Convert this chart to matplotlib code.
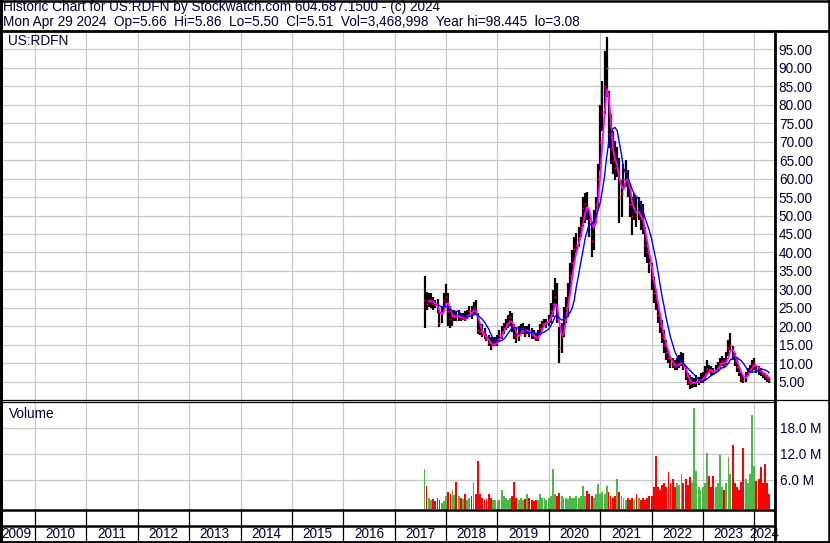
import pandas as pd
import matplotlib.pyplot as plt
import matplotlib.dates as mdates
from matplotlib.lines import Line2D

# semi-monthly bars, Aug 2017 .. Apr 2024
dates = pd.date_range("2017-08-01", periods=162, freq="SMS")

high = [
    33.6, 29.3, 28.9, 29.0, 28.0, 27.0, 27.5, 24.5, 25.5, 29.0,
    31.5, 29.0, 25.5, 24.5, 24.5, 24.0, 24.5, 23.5, 23.5, 24.0,
    24.5, 25.5, 25.5, 26.5, 27.0, 23.5, 21.0, 20.5, 19.5, 18.0,
    17.5, 17.0, 17.0, 17.0, 17.5, 19.0, 20.0, 21.0, 22.0, 23.0,
    24.0, 23.5, 20.5, 19.5, 20.0, 20.5, 21.0, 20.0, 20.0, 20.5,
    19.5, 19.0, 18.0, 19.0, 20.5, 21.5, 22.0, 22.0, 23.0, 26.2,
    29.8, 33.0, 31.6, 19.8, 20.8, 25.2, 28.0, 31.6, 37.0, 40.6,
    44.1, 45.2, 46.8, 49.5, 55.0, 56.0, 56.4, 51.4, 47.9, 51.4,
    55.0, 64.0, 80.0, 86.5, 94.6, 98.4, 83.8, 77.6, 73.0, 70.3,
    68.5, 65.7, 59.5, 64.0, 65.0, 62.2, 58.6, 55.0, 56.0, 55.0,
    55.0, 54.0, 53.2, 46.8, 43.2, 40.5, 37.0, 33.3, 29.8, 26.2,
    23.5, 21.7, 19.0, 16.3, 13.6, 11.7, 11.4, 10.9, 11.4, 12.2,
    13.1, 12.7, 9.1, 7.3, 6.8, 6.3, 6.0, 6.8, 6.3, 7.3,
    7.7, 9.1, 10.9, 9.5, 9.1, 8.6, 9.5, 10.4, 11.3, 11.8,
    11.3, 13.1, 16.3, 18.1, 14.5, 12.7, 11.3, 9.1, 7.7, 6.8,
    7.7, 8.6, 9.5, 10.9, 11.3, 9.5, 9.1, 8.6, 7.7, 7.3,
    6.8, 6.3,
]
low = [
    19.4, 24.4, 25.2, 25.0, 24.5, 25.0, 23.5, 19.8, 21.0, 24.0,
    26.0, 20.0, 19.5, 20.0, 21.5, 21.5, 21.5, 21.5, 21.7, 21.5,
    22.0, 23.0, 22.0, 23.0, 23.0, 18.0, 17.5, 17.0, 16.5, 16.0,
    14.5, 13.5, 14.5, 14.5, 14.5, 16.5, 16.5, 18.0, 19.0, 19.5,
    20.0, 18.5, 16.5, 15.5, 16.0, 18.0, 18.0, 17.0, 18.0, 17.0,
    16.5, 16.5, 16.0, 16.0, 18.0, 19.0, 20.0, 19.5, 20.0, 20.8,
    22.5, 25.2, 20.8, 10.0, 12.7, 17.0, 20.8, 22.5, 29.0, 33.3,
    37.0, 39.8, 41.4, 44.1, 46.8, 48.0, 48.7, 44.1, 38.7, 40.6,
    48.0, 52.0, 62.0, 73.0, 77.6, 82.0, 68.4, 64.0, 61.2, 59.5,
    60.3, 48.0, 49.5, 56.8, 57.6, 55.0, 49.5, 44.6, 48.7, 46.8,
    48.7, 46.0, 45.0, 38.7, 37.0, 34.3, 29.8, 26.2, 24.4, 20.8,
    18.1, 15.5, 12.7, 10.9, 10.0, 8.7, 8.7, 8.2, 8.2, 8.7,
    9.1, 8.2, 5.5, 4.1, 3.08, 3.3, 3.6, 3.6, 4.1, 4.6,
    4.6, 5.5, 6.8, 7.3, 6.8, 6.8, 7.3, 7.7, 8.6, 9.1,
    8.6, 9.5, 11.8, 13.6, 10.9, 9.1, 7.7, 6.4, 5.0, 4.6,
    5.0, 6.4, 7.3, 7.7, 8.2, 7.3, 6.8, 6.4, 5.9, 5.5,
    5.0, 4.6,
]
close = [
    27.0, 26.0, 27.0, 27.0, 26.0, 25.7, 25.0, 21.0, 23.5, 27.0,
    28.0, 24.0, 22.0, 22.5, 23.0, 22.5, 22.8, 22.0, 22.3, 22.0,
    23.0, 24.0, 23.5, 25.0, 24.0, 19.0, 18.5, 18.0, 17.0, 16.5,
    15.5, 14.5, 15.0, 15.5, 16.0, 17.5, 18.5, 19.5, 20.5, 21.0,
    22.5, 20.0, 17.5, 17.0, 17.5, 19.0, 19.5, 18.0, 19.0, 18.5,
    17.5, 17.0, 16.5, 17.0, 19.5, 20.5, 21.0, 21.0, 21.5, 24.0,
    26.0, 28.0, 22.0, 14.0, 17.0, 22.0, 25.0, 28.0, 34.0, 37.0,
    41.0, 42.0, 44.0, 47.0, 52.0, 53.0, 52.0, 49.0, 43.0, 48.0,
    53.0, 60.0, 70.0, 78.0, 85.0, 90.0, 72.0, 68.0, 65.0, 63.0,
    63.0, 55.0, 56.0, 60.0, 62.0, 58.0, 53.0, 50.0, 52.0, 50.0,
    51.0, 49.0, 47.0, 42.0, 40.0, 37.0, 33.0, 29.0, 27.0, 23.0,
    20.0, 17.0, 15.0, 13.0, 11.5, 10.0, 9.5, 9.0, 9.5, 10.0,
    10.5, 9.0, 6.5, 5.0, 4.5, 4.5, 4.8, 5.0, 5.2, 5.5,
    6.0, 7.0, 8.5, 8.0, 7.8, 7.5, 8.2, 9.0, 10.0, 10.5,
    9.5, 11.0, 14.0, 15.0, 12.0, 10.5, 9.0, 7.5, 6.0, 5.5,
    6.5, 7.5, 8.5, 9.5, 10.0, 8.5, 8.0, 7.5, 7.0, 6.5,
    6.0, 5.51,
]
# volume in millions
volume = [
    9.2, 5.3, 2.5, 2.0, 2.2, 1.8, 2.5, 2.0, 1.5, 1.8,
    3.0, 4.0, 3.5, 4.4, 3.2, 6.2, 3.0, 2.5, 2.2, 3.5,
    2.0, 2.5, 3.0, 6.3, 3.5, 11.1, 3.5, 2.5, 2.0, 2.2,
    3.5, 2.5, 2.0, 2.0, 1.8, 2.0, 4.4, 3.0, 2.5, 2.0,
    2.5, 3.0, 6.2, 2.5, 2.0, 2.5, 2.0, 2.2, 3.5, 2.5,
    2.0, 1.8, 2.0, 2.0, 3.5, 2.5, 2.5, 2.0, 2.5, 3.0,
    9.2, 3.5, 3.0, 3.7, 3.0, 2.5, 2.5, 2.2, 3.0, 2.5,
    2.5, 3.0, 2.5, 3.0, 5.3, 3.0, 4.2, 3.5, 3.0, 2.5,
    3.5, 5.8, 3.5, 4.0, 3.5, 5.4, 4.0, 3.0, 2.5, 3.0,
    6.9, 4.0, 3.0, 2.5, 2.0, 2.5, 2.0, 2.5, 2.0, 3.5,
    2.5, 2.0, 2.5, 2.0, 2.5, 3.0, 3.0, 5.0, 12.2, 5.0,
    4.5, 5.5, 6.0, 5.0, 8.5, 6.0, 7.0, 5.0, 6.0, 5.5,
    8.0, 6.0, 6.9, 5.5, 7.5, 6.0, 23.3, 8.8, 5.0, 4.5,
    5.0, 6.0, 12.9, 7.6, 5.0, 7.6, 5.0, 6.0, 12.4, 5.0,
    4.5, 6.0, 12.0, 8.0, 14.8, 6.0, 5.0, 4.5, 6.3, 14.1,
    7.0, 6.0, 8.0, 21.7, 9.9, 6.5, 7.0, 9.7, 6.0, 10.3,
    6.0, 3.4,
]

years = list(range(2009, 2025))
price_ticks = list(range(5, 100, 5))
vol_ticks = [6, 12, 18]

W, H = 830, 543
TXT = "#000033"
GRID = "#c8c8c8"
FONT = "Liberation Sans"
FS = 9.8


def fx(px):
    return px / W


def fy(py):
    return 1 - py / H


plt.rcParams["font.family"] = FONT
fig = plt.figure(figsize=(W / 100, H / 100), dpi=100)

xl = (mdates.date2num(pd.Timestamp("2009-05-11")), mdates.date2num(pd.Timestamp("2024-05-20")))
x = mdates.date2num(dates)
year_x = [mdates.date2num(pd.Timestamp(f"{y}-01-01")) for y in years[1:]]

# price panel
ax = fig.add_axes([fx(2), fy(400), (774 - 2) / W, (400 - 31) / H])
ax.set_xlim(xl)
ax.set_ylim(0, 100)
ax.set_yticks(price_ticks)
ax.set_yticklabels([f"{v:.2f}" for v in price_ticks])
ax.yaxis.tick_right()
ax.tick_params(axis="y", length=0, pad=3.5, labelsize=FS, labelcolor=TXT)
ax.set_xticks(year_x)
ax.tick_params(axis="x", length=0, labelbottom=False)
ax.grid(True, color=GRID, lw=0.9)
ax.set_axisbelow(True)
for s in ax.spines.values():
    s.set_visible(False)

s = pd.Series(close)
ma_short = s.rolling(3).mean()
ma_long = s.rolling(8).mean()
ax.vlines(x, low, high, color="black", lw=1.6)
ax.plot(x, close, ls="none", marker="s", ms=1.4, color="red", mec="none")
ax.plot(x, ma_short, color="#ff00ff", lw=1.3)
ax.plot(x, ma_long, color="#0000ff", lw=1.0)

# volume panel
av = fig.add_axes([fx(2), fy(509), (774 - 2) / W, (509 - 402) / H])
av.set_xlim(xl)
av.set_ylim(-0.7, 24)
av.set_yticks(vol_ticks)
av.set_yticklabels([f"{v:.1f} M" for v in vol_ticks])
av.yaxis.tick_right()
av.tick_params(axis="y", length=0, pad=4, labelsize=FS, labelcolor=TXT)
av.set_xticks(year_x)
av.tick_params(axis="x", length=0, labelbottom=False)
av.grid(True, color=GRID, lw=0.9)
av.set_axisbelow(True)
for sp in av.spines.values():
    sp.set_visible(False)
colors = ["#4db848" if i == 0 or close[i] >= close[i - 1] else "#ff0000" for i in range(len(close))]
av.bar(x, volume, width=13, bottom=-0.7, color=colors, lw=0)

# year strip
ay = fig.add_axes([fx(2), fy(541), (774 - 2) / W, (541 - 509) / H])
ay.set_xlim(xl)
ay.set_ylim(0, 2)
ay.axis("off")
for yx in year_x:
    ay.axvline(yx, color="black", lw=0.9)
edges = [xl[0]] + year_x + [xl[1]]
for i, y in enumerate(years):
    if i == 0:
        ay.text(xl[0] - 1, 0.44, str(y), ha="left", va="center", fontsize=FS, color=TXT)
    else:
        ay.text((edges[i] + edges[i + 1]) / 2, 0.44, str(y), ha="center", va="center",
                fontsize=FS, color=TXT, clip_on=False)


def hline(py, x0, x1, lw):
    fig.add_artist(Line2D([fx(x0), fx(x1)], [fy(py), fy(py)], color="black", lw=lw))


def vline(px, y0, y1, lw):
    fig.add_artist(Line2D([fx(px), fx(px)], [fy(y0), fy(y1)], color="black", lw=lw))


hline(1, 0, 830, 1.8)
hline(30.5, 0, 830, 2.0)
hline(400.3, 0, 830, 0.9)
hline(402.3, 0, 774, 0.9)
hline(509.5, 0, 774, 1.8)
hline(525.5, 0, 774, 1.8)
hline(541.5, 0, 830, 2.0)
vline(1.2, 0, 543, 2.2)
vline(829, 0, 543, 1.8)
vline(774.5, 30.5, 541.5, 2.0)

fig.text(fx(3), fy(7.5), "Historic Chart for US:RDFN by Stockwatch.com 604.687.1500 - (c) 2024",
         ha="left", va="center", fontsize=FS, color=TXT)
fig.text(fx(3), fy(22), "Mon Apr 29 2024  Op=5.66  Hi=5.86  Lo=5.50  Cl=5.51  Vol=3,468,998  Year hi=98.445  lo=3.08",
         ha="left", va="center", fontsize=FS, color=TXT)
fig.text(fx(8), fy(41), "US:RDFN", ha="left", va="center", fontsize=FS, color=TXT)
fig.text(fx(9), fy(413.5), "Volume", ha="left", va="center", fontsize=FS, color=TXT)

fig.savefig("out.png", dpi=100)
